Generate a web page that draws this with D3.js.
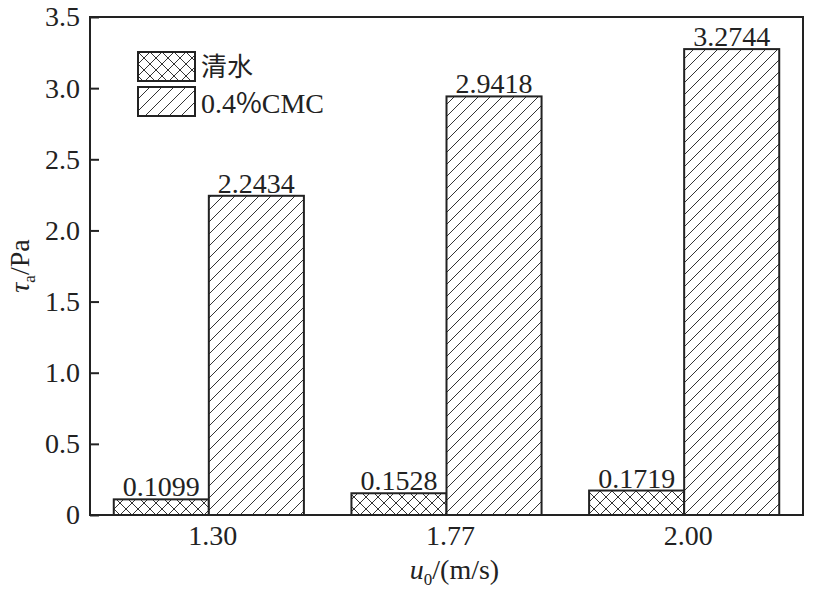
<!DOCTYPE html>
<html>
<head>
<meta charset="utf-8">
<script src="https://cdn.jsdelivr.net/npm/d3@7"></script>
<style>
body { margin: 0; background: #fff; }
text { font-family: "Liberation Serif", "Times New Roman", serif; fill: #222; }
</style>
</head>
<body>
<div id="container"></div>
<script>
// data
var speeds = ["1.30", "1.77", "2.00"];
var seriesNames = ["清水", "0.4%CMC"];
var water = [0.1099, 0.1528, 0.1719];
var cmc = [2.2434, 2.9418, 3.2744];
var yTicks = [0, 0.5, 1.0, 1.5, 2.0, 2.5, 3.0, 3.5];

var width = 815, height = 591;
var margin = {top: 17, right: 12, bottom: 76, left: 90};
var innerW = width - margin.left - margin.right,
    innerH = height - margin.top - margin.bottom;

var svg = d3.select("#container").append("svg")
  .attr("width", width)
  .attr("height", height);

var defs = svg.append("defs");
// single diagonal hatch
var p1 = defs.append("pattern")
  .attr("id", "diag")
  .attr("patternUnits", "userSpaceOnUse")
  .attr("width", 12).attr("height", 12);
p1.append("rect").attr("width", 12).attr("height", 12).attr("fill", "#fff");
p1.append("path")
  .attr("d", "M-3,3 L3,-3 M0,12 L12,0 M9,15 L15,9")
  .attr("stroke", "#333").attr("stroke-width", 1);

// cross hatch
var p2 = defs.append("pattern")
  .attr("id", "cross")
  .attr("patternUnits", "userSpaceOnUse")
  .attr("width", 12).attr("height", 12);
p2.append("rect").attr("width", 12).attr("height", 12).attr("fill", "#fff");
p2.append("path")
  .attr("d", "M-3,3 L3,-3 M0,12 L12,0 M9,15 L15,9 M-3,9 L3,15 M0,0 L12,12 M9,-3 L15,3")
  .attr("stroke", "#333").attr("stroke-width", 1);

var g = svg.append("g")
  .attr("transform", "translate(" + margin.left + "," + margin.top + ")");

var x = d3.scaleBand()
  .domain(speeds)
  .range([0, innerW])
  .paddingInner(0.2)
  .paddingOuter(0.1);

var x1 = d3.scaleBand()
  .domain([0, 1])
  .range([0, x.bandwidth()]);

var y = d3.scaleLinear()
  .domain([0, 3.5])
  .range([innerH, 0]);

var series = [water, cmc];
var fills = ["url(#cross)", "url(#diag)"];

speeds.forEach(function(s, i) {
  series.forEach(function(vals, k) {
    var bx = x(s) + x1(k);
    g.append("rect")
      .attr("x", bx)
      .attr("y", y(vals[i]))
      .attr("width", x1.bandwidth())
      .attr("height", innerH - y(vals[i]))
      .attr("fill", fills[k])
      .attr("stroke", "#222")
      .attr("stroke-width", 2);
    g.append("text")
      .attr("x", bx + x1.bandwidth() / 2)
      .attr("y", y(vals[i]) - 3)
      .attr("text-anchor", "middle")
      .style("font-size", "28px")
      .text(vals[i].toFixed(4));
  });
});

// y axis
var yAxis = g.append("g")
  .call(d3.axisLeft(y).tickValues(yTicks).tickSizeInner(-9).tickSizeOuter(0)
    .tickPadding(10)
    .tickFormat(function(d) { return d === 0 ? "0" : d3.format(".1f")(d); }));
yAxis.attr("font-family", "Liberation Serif");
yAxis.select(".domain").remove();
yAxis.selectAll("line").attr("stroke", "#222").attr("stroke-width", 2);
yAxis.selectAll("text")
  .style("font-size", "28px")
  .style("font-family", "'Liberation Serif', serif")
  .attr("fill", "#222");

// x axis labels (no ticks)
var xAxis = g.append("g")
  .attr("transform", "translate(0," + innerH + ")")
  .call(d3.axisBottom(x).tickSize(0).tickPadding(10));
xAxis.attr("font-family", "Liberation Serif");
xAxis.select(".domain").remove();
xAxis.selectAll("text")
  .attr("dx", 4)
  .style("font-size", "28px")
  .style("font-family", "'Liberation Serif', serif")
  .attr("fill", "#222");

// frame
g.append("rect")
  .attr("width", innerW)
  .attr("height", innerH)
  .attr("fill", "none")
  .attr("stroke", "#222")
  .attr("stroke-width", 2);

// axis titles
var yt = svg.append("text")
  .attr("transform", "translate(29," + (margin.top + innerH / 2) + ") rotate(-90)")
  .attr("text-anchor", "middle")
  .style("font-size", "28px");
yt.append("tspan").style("font-style", "italic").text("τ");
yt.append("tspan").style("font-size", "17px").attr("dy", 6).text("a");
yt.append("tspan").attr("dy", -6).text("/Pa");

var xt = svg.append("text")
  .attr("x", margin.left + innerW / 2 + 8)
  .attr("y", 579)
  .attr("text-anchor", "middle")
  .style("font-size", "28px");
xt.append("tspan").style("font-style", "italic").text("u");
xt.append("tspan").style("font-size", "17px").attr("dy", 6).text("0");
xt.append("tspan").attr("dy", -6).text("/(m/s)");

// legend
var legend = svg.append("g").attr("transform", "translate(138,52)");
seriesNames.forEach(function(name, k) {
  var row = legend.append("g").attr("transform", "translate(0," + (k * 35) + ")");
  row.append("rect")
    .attr("width", 57).attr("height", 29)
    .attr("fill", fills[k])
    .attr("stroke", "#222").attr("stroke-width", 2);
  var t = row.append("text")
    .attr("x", 63).attr("y", k === 0 ? 24 : 26)
    .style("font-size", k === 0 ? "26px" : "28px");
  if (k === 0) {
    t.style("font-family", "'Noto Sans CJK SC'").text(name);
  } else {
    // the percent sign is set in a CJK font, as in the original
    var parts = name.split("%");
    t.append("tspan").text(parts[0]);
    t.append("tspan").style("font-family", "'Noto Sans CJK SC'").text("%");
    t.append("tspan").text(parts[1]);
  }
});
</script>
</body>
</html>
